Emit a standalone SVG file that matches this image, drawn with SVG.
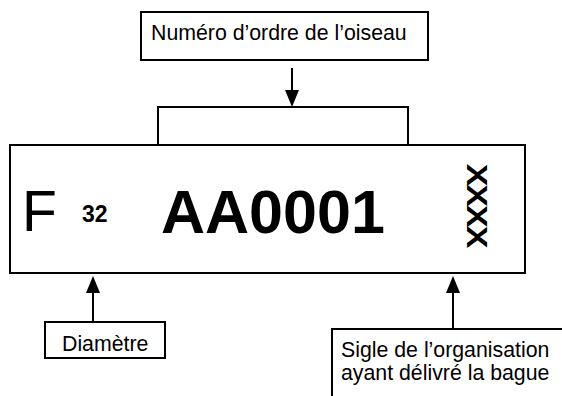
<svg xmlns="http://www.w3.org/2000/svg" width="562" height="396" viewBox="0 0 562 396">
<style>
.box{fill:#fff;stroke:#000;stroke-width:2}
.ln{fill:none;stroke:#000;stroke-width:2}
.head{fill:#000}
.t{font-family:"Liberation Sans",Arial,sans-serif;fill:#000}
.lbl{font-size:21.3px}
</style>
<rect width="562" height="396" fill="#fff"/>
<g id="ring">
<rect class="box" x="10" y="145" width="515" height="128"/>
<text class="t" x="22" y="231" font-size="57">F</text>
<text class="t" x="82" y="222" font-size="23" font-weight="bold">32</text>
<text class="t" x="161" y="233" font-size="61" font-weight="bold">AA0001</text>
<text class="t" transform="translate(467,205) rotate(90) scale(1,0.85)" x="0" y="0" font-size="34" font-weight="bold" text-anchor="middle" letter-spacing="-2">XXXX</text>
</g>
<g id="numero">
<rect class="box" x="141" y="12" width="287" height="48"/>
<text class="t lbl" x="151" y="40">Numéro d’ordre de l’oiseau</text>
</g>
<g id="diametre">
<rect class="box" x="45" y="322" width="120" height="36"/>
<text class="t lbl" x="62" y="351">Diamètre</text>
</g>
<g id="sigle">
<path class="ln" d="M332,396 V329 H562"/>
<text class="t lbl" x="341" y="357">Sigle de l’organisation</text>
<text class="t lbl" x="341" y="380">ayant délivré la bague</text>
</g>
<g id="connectors">
<path class="ln" d="M158,145 V107 H408 V145"/>
<line class="ln" x1="292" y1="68" x2="292" y2="91"/>
<path class="head" d="M285,90 L292,107 L299,90 Z"/>
<line class="ln" x1="93" y1="322" x2="93" y2="292"/>
<path class="head" d="M86,293 L93,276 L100,293 Z"/>
<line class="ln" x1="453" y1="329" x2="453" y2="292"/>
<path class="head" d="M446,293 L453,276 L460,293 Z"/>
</g>
</svg>
